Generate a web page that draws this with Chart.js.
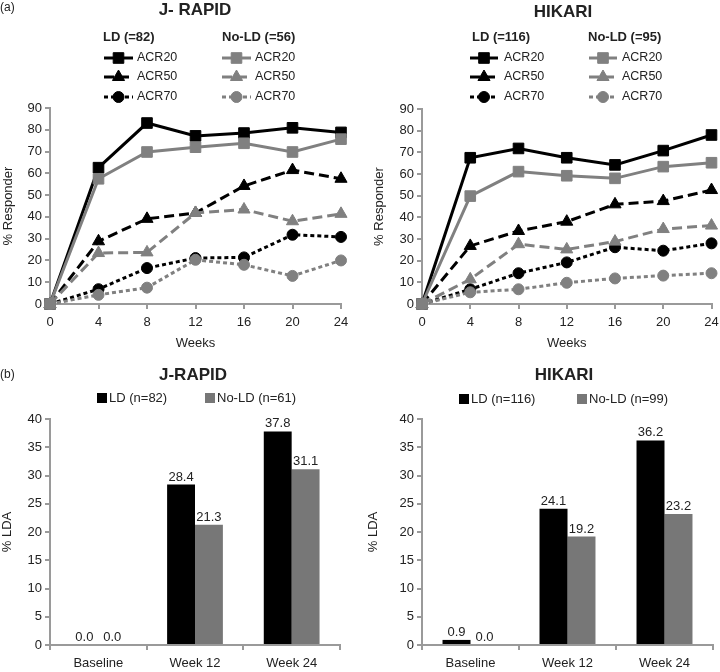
<!DOCTYPE html>
<html><head><meta charset="utf-8">
<script src="https://cdn.jsdelivr.net/npm/chart.js@4/dist/chart.umd.min.js"></script>
<style>
html,body{margin:0;padding:0;background:#fff;overflow:hidden;width:720px;height:672px}
canvas{position:absolute}
</style></head><body>
<canvas id="c1" width="360" height="355" style="left:0;top:0"></canvas>
<canvas id="c2" width="360" height="355" style="left:360px;top:0"></canvas>
<canvas id="c3" width="360" height="312" style="left:0;top:360px"></canvas>
<canvas id="c4" width="360" height="312" style="left:360px;top:360px"></canvas>
<script>
// ---------- data ----------
const weeks = [0, 4, 8, 12, 16, 20, 24];
const weekTicks = [0, 4, 8, 12, 16, 20, 24];

const jrLdAcr20   = [0, 62.6, 83.1, 77.2, 78.5, 80.9, 78.8];
const jrLdAcr50   = [0, 28.8, 39.1, 41.8, 54.2, 61.5, 57.5];
const jrLdAcr70   = [0, 6.8, 16.5, 21.1, 21.4, 31.8, 30.8];
const jrNoAcr20   = [0, 57.5, 69.8, 72.0, 73.8, 69.8, 75.7];
const jrNoAcr50   = [0, 23.4, 23.7, 41.8, 43.4, 38.0, 41.4];
const jrNoAcr70   = [0, 4.2, 7.5, 20.3, 18.0, 12.9, 20.0];

const hkLdAcr20   = [0, 67.5, 71.8, 67.5, 64.2, 70.8, 78.0];
const hkLdAcr50   = [0, 26.8, 33.7, 38.0, 46.0, 47.5, 52.6];
const hkLdAcr70   = [0, 6.8, 14.2, 19.2, 26.2, 24.6, 28.0];
const hkNoAcr20   = [0, 49.8, 61.1, 59.2, 58.0, 63.4, 65.2];
const hkNoAcr50   = [0, 11.4, 27.6, 25.2, 28.8, 34.6, 36.2];
const hkNoAcr70   = [0, 5.4, 6.8, 9.8, 11.8, 13.1, 14.2];

const barCategories = ['Baseline', 'Week 12', 'Week 24'];
const jrBarLd   = [0.0, 28.4, 37.8];
const jrBarNoLd = [0.0, 21.3, 31.1];
const hkBarLd   = [0.9, 24.1, 36.2];
const hkBarNoLd = [0.0, 19.2, 23.2];

// ---------- styling ----------
const FF = '"Liberation Sans", Arial, Helvetica, sans-serif';
Chart.defaults.font.family = FF;
Chart.defaults.color = '#222';
const BLACK = '#000000', GRAY = '#808080', BARGRAY = '#777777', AXIS = '#9a9a9a';

function drawMarker(ctx, style, r, x, y, fill, stroke) {
  ctx.save();
  ctx.fillStyle = fill; ctx.strokeStyle = stroke; ctx.lineWidth = 1; ctx.setLineDash([]);
  ctx.beginPath();
  if (style === 'rect') {
    const s = r * Math.SQRT2;
    ctx.rect(x - s / 2, y - s / 2, s, s);
  } else if (style === 'triangle') {
    for (let k = 0; k < 3; k++) {
      const a = k * 2 * Math.PI / 3;
      const px = x + Math.sin(a) * r, py = y - Math.cos(a) * r;
      if (k === 0) ctx.moveTo(px, py); else ctx.lineTo(px, py);
    }
    ctx.closePath();
  } else {
    ctx.arc(x, y, r, 0, Math.PI * 2);
  }
  ctx.fill(); ctx.stroke();
  ctx.restore();
}

const decor = {
  id: 'decor',
  afterDatasetsDraw(chart, args, o) {
    const ctx = chart.ctx;
    ctx.save();
    if (o.barLabels) {
      ctx.font = '13px ' + FF; ctx.fillStyle = '#222';
      ctx.textAlign = 'center'; ctx.textBaseline = 'alphabetic';
      chart.data.datasets.forEach((ds, i) => {
        chart.getDatasetMeta(i).data.forEach((el, j) => {
          ctx.fillText(ds.data[j].toFixed(1), el.x, el.y - 4);
        });
      });
    }
    ctx.restore();
  },
  afterDraw(chart, args, o) {
    const ctx = chart.ctx;
    ctx.save();
    ctx.fillStyle = '#222';
    if (o.panel) {
      ctx.font = '12px ' + FF; ctx.textAlign = 'left'; ctx.textBaseline = 'middle';
      ctx.fillText(o.panel.text, o.panel.x, o.panel.y);
    }
    if (o.title) {
      ctx.font = 'bold 17px ' + FF; ctx.textAlign = 'center'; ctx.textBaseline = 'middle';
      ctx.fillText(o.title.text, o.title.x, o.title.y);
    }
    (o.headers || []).forEach(h => {
      ctx.font = 'bold 13px ' + FF; ctx.textAlign = 'left'; ctx.textBaseline = 'middle';
      ctx.fillText(h.text, h.x, h.y);
    });
    (o.lineLegend || []).forEach(it => {
      const ds = chart.data.datasets[it.ds];
      ctx.save();
      ctx.strokeStyle = ds.borderColor; ctx.lineWidth = ds.borderWidth;
      ctx.setLineDash(ds.borderDash || []);
      ctx.beginPath(); ctx.moveTo(it.x1, it.y); ctx.lineTo(it.x2, it.y); ctx.stroke();
      ctx.restore();
      drawMarker(ctx, ds.pointStyle, ds.pointRadius, (it.x1 + it.x2) / 2, it.y, ds.pointBackgroundColor, ds.pointBorderColor);
      ctx.fillStyle = '#222';
      ctx.font = '12.5px ' + FF; ctx.textAlign = 'left'; ctx.textBaseline = 'middle';
      ctx.fillText(ds.label, it.tx, it.y);
    });
    (o.boxLegend || []).forEach(it => {
      const ds = chart.data.datasets[it.ds];
      ctx.fillStyle = ds.backgroundColor;
      ctx.fillRect(it.x, it.y - 5, 10, 10);
      ctx.fillStyle = '#222';
      ctx.font = '13px ' + FF; ctx.textAlign = 'left'; ctx.textBaseline = 'middle';
      ctx.fillText(ds.label, it.tx, it.y);
    });
    ctx.restore();
  }
};

function lineDs(label, arr, color, kind, order) {
  const dash = kind === 20 ? [] : (kind === 50 ? [10, 5] : [4, 3]);
  const ps = kind === 20 ? 'rect' : (kind === 50 ? 'triangle' : 'circle');
  const pr = kind === 20 ? 7.5 : (kind === 50 ? 7 : 5.5);
  return {
    label: label, data: weeks.map((w, i) => ({ x: w, y: arr[i] })),
    borderColor: color, backgroundColor: color, borderWidth: 3, borderDash: dash,
    borderCapStyle: 'butt', pointStyle: ps, pointRadius: pr,
    pointBackgroundColor: color, pointBorderColor: color, pointBorderWidth: 1,
    tension: 0, clip: false, order: order
  };
}

function axisCommon() {
  return {
    grid: { display: true, drawOnChartArea: false, drawTicks: true, tickLength: 5, color: AXIS, lineWidth: 2 },
    border: { display: true, color: AXIS, width: 2 }
  };
}

function makeLine(id, sets, pad, yWidth, dec) {
  const ax = axisCommon(), ay = axisCommon();
  new Chart(document.getElementById(id), {
    type: 'line',
    data: { datasets: sets },
    options: {
      responsive: false, animation: false, events: [],
      layout: { padding: pad },
      plugins: { legend: { display: false }, tooltip: { enabled: false }, decor: dec },
      scales: {
        x: Object.assign(ax, {
          type: 'linear', min: 0, max: 24,
          afterBuildTicks: s => { s.ticks = weekTicks.map(v => ({ value: v })); },
          ticks: { padding: 6, font: { size: 13 }, color: '#222' },
          title: { display: true, text: 'Weeks', font: { size: 13 }, color: '#222', padding: { top: 0, bottom: 4 } },
          afterFit: s => { s.height = 51; s.paddingLeft = 0; s.paddingRight = 0; }
        }),
        y: Object.assign(ay, {
          min: 0, max: 90,
          ticks: { stepSize: 10, padding: 3, font: { size: 13 }, color: '#222' },
          title: { display: true, text: '% Responder', font: { size: 13 }, color: '#222', padding: { top: 1, bottom: 0 } },
          afterFit: s => { s.width = yWidth; s.paddingTop = 0; s.paddingBottom = 0; }
        })
      }
    },
    plugins: [decor]
  });
}

function makeBar(id, ld, nold, ldLabel, noLabel, pad, yWidth, dec) {
  const ax = axisCommon(), ay = axisCommon();
  ax.grid.offset = true;
  new Chart(document.getElementById(id), {
    type: 'bar',
    data: {
      labels: barCategories,
      datasets: [
        { label: ldLabel, data: ld, backgroundColor: BLACK, borderWidth: 0, categoryPercentage: 0.577, barPercentage: 1 },
        { label: noLabel, data: nold, backgroundColor: BARGRAY, borderWidth: 0, categoryPercentage: 0.577, barPercentage: 1 }
      ]
    },
    options: {
      responsive: false, animation: false, events: [],
      layout: { padding: pad },
      plugins: { legend: { display: false }, tooltip: { enabled: false }, decor: dec },
      scales: {
        x: Object.assign(ax, {
          ticks: { padding: 6, font: { size: 13 }, color: '#222' },
          afterFit: s => { s.height = 27; s.paddingLeft = 0; s.paddingRight = 0; }
        }),
        y: Object.assign(ay, {
          min: 0, max: 40,
          ticks: { stepSize: 5, padding: 3, font: { size: 13 }, color: '#222' },
          title: { display: true, text: '% LDA', font: { size: 13 }, color: '#222', padding: { top: 0, bottom: 0 } },
          afterFit: s => { s.width = yWidth; s.paddingTop = 0; s.paddingBottom = 0; }
        })
      }
    },
    plugins: [decor]
  });
}

// ---------- panel (a) J-RAPID ----------
makeLine('c1', [
  lineDs('ACR20', jrLdAcr20, BLACK, 20, 2),
  lineDs('ACR50', jrLdAcr50, BLACK, 50, 2),
  lineDs('ACR70', jrLdAcr70, BLACK, 70, 2),
  lineDs('ACR20', jrNoAcr20, GRAY, 20, 1),
  lineDs('ACR50', jrNoAcr50, GRAY, 50, 1),
  lineDs('ACR70', jrNoAcr70, GRAY, 70, 1)
], { top: 108, left: 0, right: 19, bottom: 0 }, 50, {
  panel: { text: '(a)', x: 0, y: 8 },
  title: { text: 'J- RAPID', x: 195, y: 10 },
  headers: [{ text: 'LD (=82)', x: 103, y: 37 }, { text: 'No-LD (=56)', x: 222, y: 37 }],
  lineLegend: [
    { ds: 0, x1: 104, x2: 133, tx: 137, y: 58 },
    { ds: 1, x1: 104, x2: 133, tx: 137, y: 77 },
    { ds: 2, x1: 104, x2: 133, tx: 137, y: 97 },
    { ds: 3, x1: 222, x2: 251, tx: 255, y: 58 },
    { ds: 4, x1: 222, x2: 251, tx: 255, y: 77 },
    { ds: 5, x1: 222, x2: 251, tx: 255, y: 97 }
  ]
});

// ---------- panel (a) HIKARI ----------
makeLine('c2', [
  lineDs('ACR20', hkLdAcr20, BLACK, 20, 2),
  lineDs('ACR50', hkLdAcr50, BLACK, 50, 2),
  lineDs('ACR70', hkLdAcr70, BLACK, 70, 2),
  lineDs('ACR20', hkNoAcr20, GRAY, 20, 1),
  lineDs('ACR50', hkNoAcr50, GRAY, 50, 1),
  lineDs('ACR70', hkNoAcr70, GRAY, 70, 1)
], { top: 109, left: 11, right: 7, bottom: 0 }, 51, {
  title: { text: 'HIKARI', x: 203, y: 12 },
  headers: [{ text: 'LD (=116)', x: 112, y: 37 }, { text: 'No-LD (=95)', x: 228, y: 37 }],
  lineLegend: [
    { ds: 0, x1: 110, x2: 138, tx: 144, y: 58 },
    { ds: 1, x1: 110, x2: 138, tx: 144, y: 77 },
    { ds: 2, x1: 110, x2: 138, tx: 144, y: 97 },
    { ds: 3, x1: 229, x2: 257, tx: 262, y: 58 },
    { ds: 4, x1: 229, x2: 257, tx: 262, y: 77 },
    { ds: 5, x1: 229, x2: 257, tx: 262, y: 97 }
  ]
});

// ---------- panel (b) J-RAPID ----------
makeBar('c3', jrBarLd, jrBarNoLd, 'LD (n=82)', 'No-LD (n=61)',
  { top: 59, left: 0, right: 20, bottom: 0 }, 50, {
  barLabels: true,
  panel: { text: '(b)', x: 0, y: 15 },
  title: { text: 'J-RAPID', x: 193, y: 15 },
  boxLegend: [{ ds: 0, x: 97, tx: 109, y: 38 }, { ds: 1, x: 205, tx: 217, y: 38 }]
});

// ---------- panel (b) HIKARI ----------
makeBar('c4', hkBarLd, hkBarNoLd, 'LD (n=116)', 'No-LD (n=99)',
  { top: 59, left: 6, right: 7, bottom: 0 }, 56, {
  barLabels: true,
  title: { text: 'HIKARI', x: 204, y: 15 },
  boxLegend: [{ ds: 0, x: 99, tx: 111, y: 39 }, { ds: 1, x: 217, tx: 229, y: 39 }]
});
</script>
</body></html>
